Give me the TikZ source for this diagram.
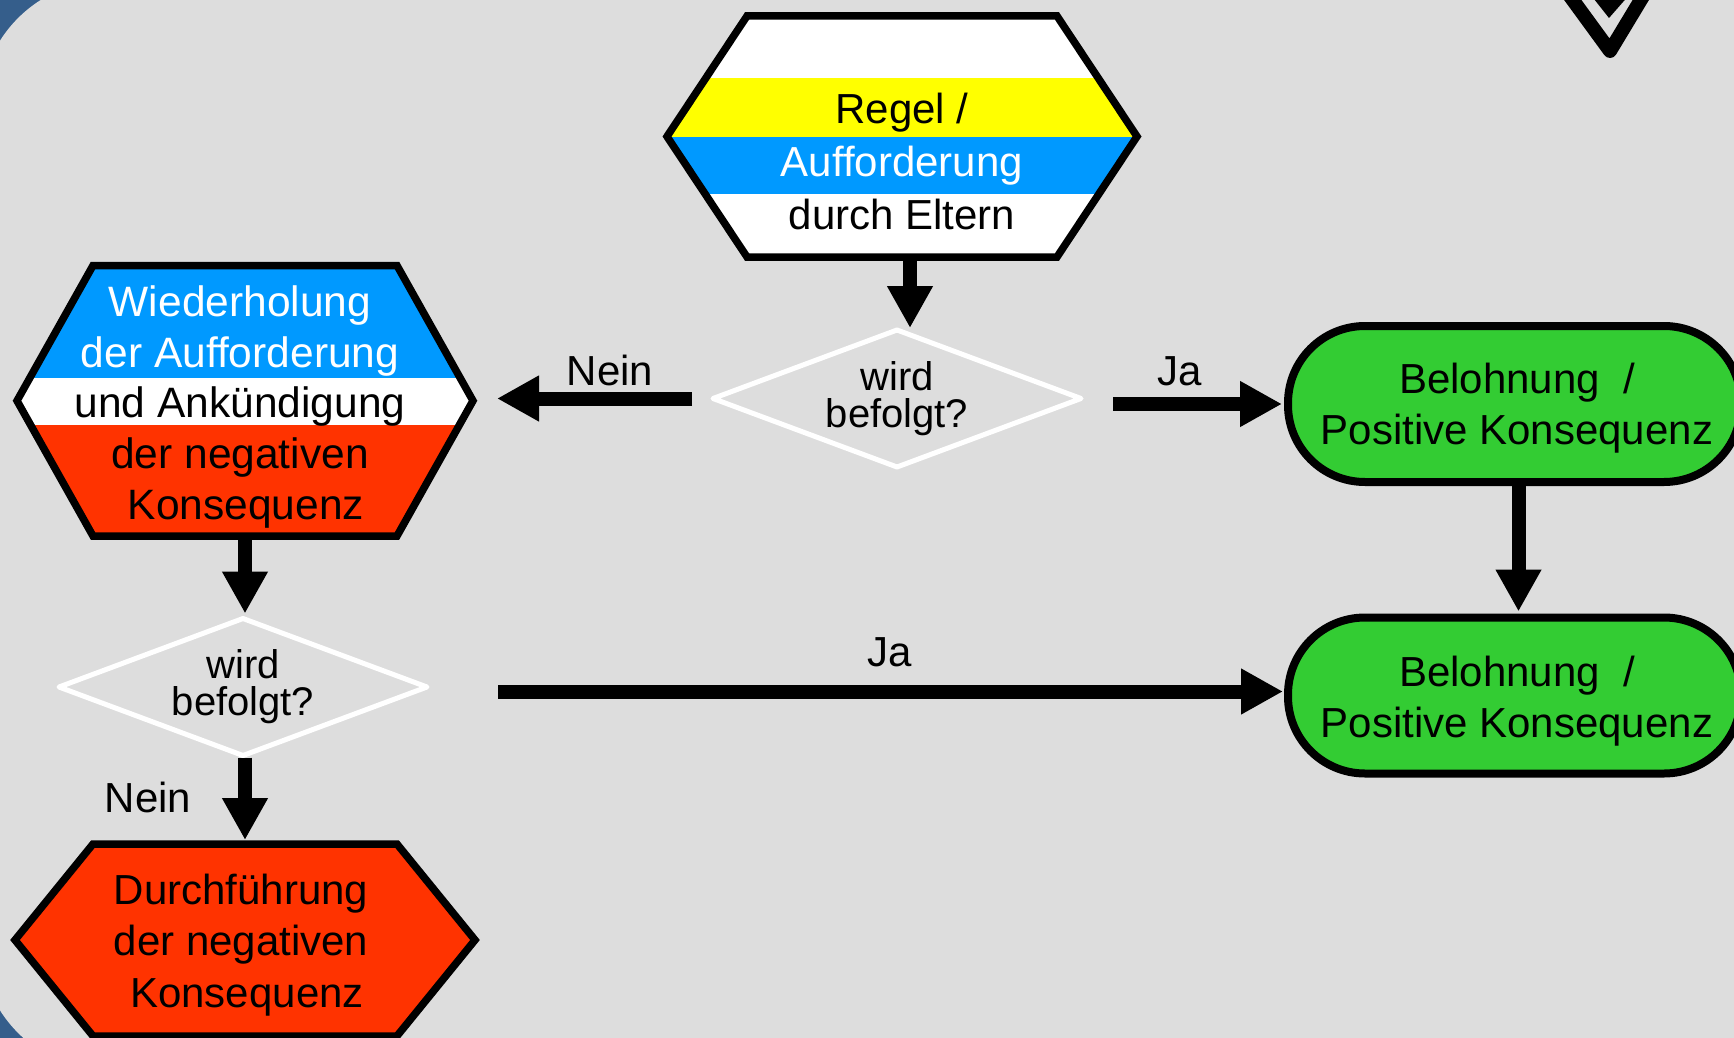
\documentclass[tikz,border=0pt]{standalone}
\usepackage{fontspec}
\setmainfont{Liberation Sans}
\usepackage{tikz}
\usetikzlibrary{arrows.meta,shapes.geometric}

\definecolor{slidegray}{HTML}{DDDDDD}
\definecolor{cornerblue}{HTML}{355E8B}
\definecolor{askblue}{HTML}{0099FF}
\definecolor{ruleyellow}{HTML}{FFFF00}
\definecolor{penaltyred}{HTML}{FF3300}
\definecolor{rewardgreen}{HTML}{33CC33}

% hexagon outline round a (plain) node, #2 = width of the slanted part
\newcommand\hexpath[2]{(#1.west) -- ([xshift=#2]#1.north west) -- ([xshift=-#2]#1.north east) -- (#1.east) -- ([xshift=-#2]#1.south east) -- ([xshift=#2]#1.south west) -- cycle}

\begin{document}
\begin{tikzpicture}[
  x=1pt, y=-1pt,
  every node/.style={font=\fontsize{42}{51}\selectfont, inner sep=0pt, outer sep=0pt},
  hexnode/.style={rectangle},
  hexline/.style={draw=black, line width=7.5pt},
  hextext/.style={align=center},
  askbox/.style={diamond, draw=white, line width=5pt, line join=round, aspect=2.7,
    minimum width=368pt, minimum height=137pt, align=center,
    font=\fontsize{40}{37}\selectfont},
  rewardbox/.style={rectangle, rounded corners=77pt, draw=black, line width=8pt,
    fill=rewardgreen, minimum width=453pt, minimum height=156pt},
  flowarrow/.style={line width=14pt, -{Triangle[length=42pt,width=43pt]}},
  lbl/.style={font=\fontsize{42}{51}\selectfont},
]
\useasboundingbox (0,0) rectangle (1734,1038);
\clip (0,0) rectangle (1734,1038);

%%% Background slide %%%
\fill[cornerblue] (0,0) rectangle (1734,1038);
\fill[slidegray, rounded corners=130pt] (-20,-20) rectangle (1900,1071);

% logo, top right
\draw[line width=14pt, line join=round] (1564,-12) -- (1610,51) -- (1648,-12);
\fill (1590,-6) -- (1609,18) -- (1630,-6) -- cycle;

%%% Rule / request by parents %%%
\node[hexnode, minimum width=470pt, minimum height=241pt] (regel) at (902,136.5) {};
\begin{scope}
  \clip \hexpath{regel}{80pt};
  \fill[white] (600,0) rectangle (1200,300);
  \fill[ruleyellow] (600,78) rectangle (1200,137);
  \fill[askblue] (600,137) rectangle (1200,194);
\end{scope}
\draw[hexline] \hexpath{regel}{80pt};
\node[hextext, font=\fontsize{42}{53}\selectfont] (regeltext) at (902,161)
  {Regel /\\\textcolor{white}{Aufforderung}\\durch Eltern};

%%% Repeated request %%%
\node[hexnode, minimum width=456pt, minimum height=270.5pt] (wdh) at (245,400.75) {};
\begin{scope}
  \clip \hexpath{wdh}{76pt};
  \fill[askblue] (0,250) rectangle (500,378);
  \fill[white] (0,378) rectangle (500,425);
  \fill[penaltyred] (0,425) rectangle (500,550);
\end{scope}
\draw[hexline] \hexpath{wdh}{76pt};
\node[hextext, font=\fontsize{42.5}{50.7}\selectfont] (wdhtext) at (240,407)
  {\textcolor{white}{Wiederholung}\\\textcolor{white}{der Aufforderung}\\und Ankündigung\\der negativen\\\hspace*{12pt}Konsequenz};

%%% Carrying out the consequence %%%
\node[hexnode, minimum width=460pt, minimum height=192pt] (strafe) at (245,940) {};
\fill[penaltyred] \hexpath{strafe}{78pt};
\draw[hexline] \hexpath{strafe}{78pt};
\node[hextext, font=\fontsize{42}{51.5}\selectfont] (strafetext) at (241,945)
  {Durchführung\\der negativen\\\hspace*{12pt}Konsequenz};

%%% Decisions %%%
\node[askbox] (frage1) at (897,398.5) {wird\\befolgt?};
\node[askbox] (frage2) at (243,687) {wird\\befolgt?};

%%% Rewards %%%
\node[rewardbox] (lob1) at (1514.5,404) {};
\node[hextext] (lob1text) at (1517,408) {Belohnung\ \ /\\Positive Konsequenz};
\node[rewardbox] (lob2) at (1514.5,695.5) {};
\node[hextext] (lob2text) at (1517,701) {Belohnung\ \ /\\Positive Konsequenz};

%%% Connectors %%%
\draw[flowarrow, shorten >=2pt] ([xshift=8pt]regel.south) -- ([xshift=13pt]frage1.north);
\draw[flowarrow, shorten <=21pt, shorten >=24pt] (frage1.west) -- (frage1.west -| wdh.east);
\draw[flowarrow, shorten <=32pt, shorten >=6pt] (frage1.east |- lob1.west) -- (lob1.west);
\draw[flowarrow, shorten >=5pt] (wdh.south) -- (wdh.south |- frage2.north);
\draw[flowarrow, shorten <=2pt, shorten >=4pt] (frage2.south -| strafe.north) -- (strafe.north);
\draw[flowarrow, shorten <=71pt, shorten >=5pt] ([yshift=4pt]frage2.east |- lob2.west) -- ([yshift=4pt]lob2.west);
\draw[flowarrow, shorten >=6pt] ([xshift=4pt]lob1.south) -- ([xshift=4pt]lob2.north);

% Labels
\node[lbl] (nein1) at (610,370) {Nein};
\node[lbl] (ja1) at (1180,371) {Ja};
\node[lbl] (ja2) at (890,652) {Ja};
\node[lbl] (nein2) at (148,797) {Nein};

\end{tikzpicture}
\end{document}
